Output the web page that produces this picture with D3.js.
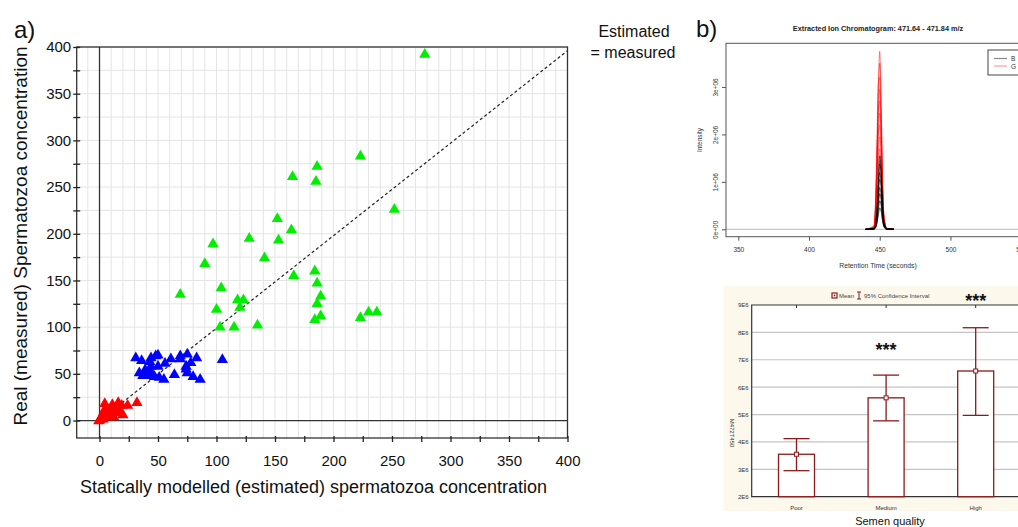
<!DOCTYPE html>
<html>
<head>
<meta charset="utf-8">
<script src="https://cdn.jsdelivr.net/npm/d3@7"></script>
<style>
  body { margin: 0; background: #fff; }
  svg { display: block; font-family: "Liberation Sans", Arial, sans-serif; }
</style>
</head>
<body>
<div id="chart"></div>
<script>
// ---------- panel a) : [estimated, measured] ----------
const greenPoints = [
  [278, 392], [223, 283], [186, 272], [165, 261], [185, 256], [252, 226], [152, 216], [164, 204],
  [128, 195], [153, 193], [97, 189], [90, 168], [141, 174], [166, 155], [184, 160], [186, 147],
  [189, 133], [186, 125], [189, 112], [184, 108], [69, 135], [104, 142], [118, 129], [123, 129],
  [120, 121], [100, 119], [103, 100], [115, 100], [135, 102], [223, 110], [230, 116], [237, 116]
];
const bluePoints = [
  [31, 67], [36, 64], [44, 67], [48, 69], [50, 70], [43, 63], [56, 61], [61, 66], [69, 69], [69, 66],
  [75, 71], [78, 62], [83, 67], [74, 58], [50, 58], [44, 58], [34, 51], [37, 48], [40, 48], [44, 49],
  [47, 47], [51, 46], [55, 44], [64, 49], [75, 51], [80, 47], [86, 44], [105, 65], [44, 52], [39, 54], [74, 55]
];
const redPoints = [
  [4.5, 18], [16, 19], [24, 16], [32, 19], [20, 6], [10, 14], [13, 9], [7, 8], [2, 4], [0.3, 0.5],
  [3, 1.3], [8.5, 3.4], [12, 4], [17, 11], [11, 17], [5, 13], [-0.6, -0.5], [8, 10], [3.5, 9],
  [14.5, 8], [19, 16], [1, 2], [6, 5], [10, 7]
];
const identityLine = [[-3, -3], [400, 396]];
const scatterTicks = [0, 25, 50, 75, 100, 125, 150, 175, 200, 225, 250, 275, 300, 325, 350, 375, 400];

// ---------- panel b) chromatogram (intensity in 1e6) ----------
const rtTimes = [440, 446, 447, 448, 449, 450, 451, 452, 453, 455, 460];
const redTraces = [
  [0, 0.05, 0.4, 1.5, 3.0, 3.75, 2.7, 1.1, 0.3, 0.02, 0],
  [0, 0.04, 0.45, 1.4, 2.8, 3.5, 2.6, 1.0, 0.25, 0.02, 0],
  [0, 0.08, 0.6, 1.8, 3.1, 3.2, 2.1, 0.8, 0.2, 0.01, 0],
  [0, 0.03, 0.35, 1.2, 2.4, 2.95, 2.3, 0.95, 0.25, 0.02, 0],
  [0, 0.06, 0.5, 1.5, 2.5, 2.7, 1.9, 0.7, 0.15, 0.01, 0],
  [0, 0.02, 0.3, 1.0, 2.0, 2.45, 2.0, 0.9, 0.25, 0.02, 0],
  [0, 0.05, 0.4, 1.1, 2.0, 2.2, 1.6, 0.6, 0.12, 0.01, 0],
  [0, 0.02, 0.25, 0.9, 1.6, 1.95, 1.6, 0.7, 0.18, 0.01, 0],
  [0, 0.03, 0.25, 0.8, 1.4, 1.7, 1.3, 0.5, 0.12, 0.01, 0],
  [0, 0.01, 0.18, 0.6, 1.2, 1.45, 1.15, 0.5, 0.14, 0.01, 0]
];
const blackTraces = [
  [0, 0.01, 0.08, 0.35, 0.95, 1.55, 1.25, 0.55, 0.15, 0.01, 0],
  [0, 0.01, 0.06, 0.3, 0.85, 1.38, 1.15, 0.5, 0.14, 0.01, 0],
  [0, 0.02, 0.1, 0.4, 0.9, 1.2, 0.95, 0.4, 0.1, 0.01, 0],
  [0, 0.01, 0.05, 0.25, 0.7, 1.05, 0.9, 0.4, 0.12, 0.01, 0],
  [0, 0.01, 0.06, 0.25, 0.6, 0.88, 0.72, 0.32, 0.09, 0.01, 0],
  [0, 0.01, 0.04, 0.18, 0.5, 0.75, 0.62, 0.28, 0.08, 0.01, 0],
  [0, 0.01, 0.03, 0.15, 0.4, 0.6, 0.5, 0.22, 0.06, 0, 0],
  [0, 0, 0.03, 0.12, 0.3, 0.45, 0.38, 0.17, 0.05, 0, 0]
];
const rtTicks = [350, 400, 450, 500, 550];
const intensityTicks = [0, 1, 2, 3];
const intensityLabels = ["0e+00", "1e+06", "2e+06", "3e+06"];
// only the first letters of the legend entries are visible in the figure
const legendNames = ["B", "G"];

// ---------- panel b) means with 95% CI (in 1E6) ----------
const qualityCats = ["Poor", "Medium", "High"];
const meanVals = [3.55, 5.61, 6.59];
const ciLow = [2.95, 4.77, 4.97];
const ciHigh = [4.12, 6.44, 8.17];
const significance = ["", "***", "***"];
const concTicks = [2, 3, 4, 5, 6, 7, 8, 9];

const svg = d3.select("#chart").append("svg")
  .attr("width", 1018)
  .attr("height", 527);

// ================= panel a) =================
function drawScatter() {
  const x = d3.scaleLinear().domain([-19.5, 400]).range([76.7, 567.5]);
  const y = d3.scaleLinear().domain([-18.7, 400]).range([438, 47]);
  const g = svg.append("g");

  // light grid: every 10 across, every 25 up
  g.selectAll(".vg").data(d3.range(-10, 400, 10)).enter().append("line")
    .attr("x1", d => x(d)).attr("x2", d => x(d))
    .attr("y1", y(-18.7)).attr("y2", y(400))
    .attr("stroke", "#e4e4e4").attr("stroke-width", 1);
  g.selectAll(".hg").data(scatterTicks).enter().append("line")
    .attr("x1", x(-19.5)).attr("x2", x(400))
    .attr("y1", d => y(d)).attr("y2", d => y(d))
    .attr("stroke", "#e4e4e4").attr("stroke-width", 1);

  // zero lines
  g.append("line").attr("x1", x(0)).attr("x2", x(0)).attr("y1", y(-18.7)).attr("y2", y(400))
    .attr("stroke", "#333").attr("stroke-width", 1.3);
  g.append("line").attr("x1", x(-19.5)).attr("x2", x(400)).attr("y1", y(0)).attr("y2", y(0))
    .attr("stroke", "#333").attr("stroke-width", 1.3);

  // box
  g.append("rect")
    .attr("x", x(-19.5)).attr("y", y(400))
    .attr("width", x(400) - x(-19.5)).attr("height", y(-18.7) - y(400))
    .attr("fill", "none").attr("stroke", "#333").attr("stroke-width", 1.3);

  const fmt = d => (d % 50 === 0 ? d : "");
  const yAxis = g.append("g").attr("transform", `translate(${x(-19.5)},0)`)
    .call(d3.axisLeft(y).tickValues(scatterTicks).tickFormat(fmt).tickSize(3.5).tickPadding(2));
  yAxis.select(".domain").remove();
  yAxis.selectAll("line").attr("x1", 3.5).attr("stroke", "#222").attr("stroke-width", 1.3);
  yAxis.selectAll("text").attr("font-size", 15).attr("font-family", "Liberation Sans, Arial").attr("fill", "#111");

  const xAxis = g.append("g").attr("transform", `translate(0,${y(-18.7)})`)
    .call(d3.axisBottom(x).tickValues(scatterTicks).tickFormat(fmt).tickSize(4).tickPadding(13));
  xAxis.select(".domain").remove();
  xAxis.selectAll("line").attr("y1", -2).attr("stroke", "#222").attr("stroke-width", 1.3);
  xAxis.selectAll("text").attr("font-size", 15).attr("font-family", "Liberation Sans, Arial").attr("fill", "#111");

  // estimated = measured
  g.append("path").datum(identityLine)
    .attr("d", d3.line().x(d => x(d[0])).y(d => y(d[1])))
    .attr("fill", "none").attr("stroke", "#222").attr("stroke-width", 1.2)
    .attr("stroke-dasharray", "3,2.5");

  const tri = d3.symbol().type(d3.symbolTriangle).size(55);
  const groups = [[redPoints, "#ff0000"], [bluePoints, "#0000ff"], [greenPoints, "#00ee00"]];
  groups.forEach(([pts, col]) => {
    g.append("g").selectAll("path").data(pts).enter().append("path")
      .attr("d", tri)
      .attr("transform", d => `translate(${x(d[0])},${y(d[1])})`)
      .attr("fill", col);
  });

  g.append("text").attr("x", 313.5).attr("y", 493).attr("text-anchor", "middle")
    .attr("font-size", 18).attr("fill", "#111")
    .text("Statically modelled (estimated) spermatozoa concentration");
  g.append("text").attr("transform", "translate(27,236) rotate(-90)").attr("text-anchor", "middle")
    .attr("font-size", 19).attr("fill", "#111")
    .text("Real (measured) Spermatozoa concentration");

  g.append("text").attr("x", 14).attr("y", 38).attr("font-size", 24).attr("fill", "#111").text("a)");
  g.append("text").attr("x", 634).attr("y", 37).attr("text-anchor", "middle")
    .attr("font-size", 16).attr("fill", "#111").text("Estimated");
  g.append("text").attr("x", 633).attr("y", 58).attr("text-anchor", "middle")
    .attr("font-size", 16).attr("fill", "#111").text("= measured");
}

// ================= panel b) chromatogram =================
function drawChromatogram() {
  const x = d3.scaleLinear().domain([341.3, 570.4]).range([726, 1050]);
  const y = d3.scaleLinear().domain([-0.156, 3.92]).range([236.7, 43.3]);
  const g = svg.append("g");

  g.append("text").attr("x", 696).attr("y", 37).attr("font-size", 24).attr("fill", "#111").text("b)");
  g.append("text").attr("x", 878).attr("y", 31).attr("text-anchor", "middle")
    .attr("font-size", 7.3).attr("font-weight", "bold").attr("fill", "#222")
    .text("Extracted Ion Chromatogram: 471.64 - 471.84 m/z");

  // baseline at zero
  g.append("line").attr("x1", 726).attr("x2", 1050).attr("y1", y(0)).attr("y2", y(0))
    .attr("stroke", "#bbb").attr("stroke-width", 1);

  const line = d3.line().x((d, i) => x(rtTimes[i])).y(d => y(d)).curve(d3.curveMonotoneX);
  g.append("g").selectAll("path").data(redTraces).enter().append("path")
    .attr("d", line).attr("fill", "none")
    .attr("stroke", "rgba(255,0,0,0.55)").attr("stroke-width", 0.9);
  g.append("g").selectAll("path").data(blackTraces).enter().append("path")
    .attr("d", line).attr("fill", "none")
    .attr("stroke", "rgba(0,0,0,0.75)").attr("stroke-width", 0.9);

  g.append("rect").attr("x", 726).attr("y", 43.3).attr("width", 330).attr("height", 193.4)
    .attr("fill", "none").attr("stroke", "#555").attr("stroke-width", 1);

  // 550 sits at the right edge of the figure and is cut off there, as in the original
  const xAxis = g.append("g").attr("transform", "translate(0,236.7)")
    .call(d3.axisBottom(x).tickValues(rtTicks).tickSize(4).tickPadding(7));
  xAxis.select(".domain").remove();
  xAxis.selectAll("line").attr("stroke", "#555");
  xAxis.selectAll("text").attr("font-size", 6.5).attr("font-family", "Liberation Sans, Arial").attr("fill", "#333");

  const yAxis = g.append("g").attr("transform", "translate(726,0)")
    .call(d3.axisLeft(y).tickValues(intensityTicks).tickFormat((d, i) => intensityLabels[i]).tickSize(4));
  yAxis.select(".domain").remove();
  yAxis.selectAll("line").attr("stroke", "#555");
  yAxis.selectAll("text")
    .attr("font-size", 6.5).attr("font-family", "Liberation Sans, Arial").attr("fill", "#333")
    .attr("x", null).attr("dy", null).attr("text-anchor", "middle")
    .attr("transform", "translate(-8,0) rotate(-90)");

  g.append("text").attr("x", 878).attr("y", 268).attr("text-anchor", "middle")
    .attr("font-size", 6.8).attr("fill", "#333").text("Retention Time (seconds)");
  g.append("text").attr("transform", "translate(702,140) rotate(-90)").attr("text-anchor", "middle")
    .attr("font-size", 6.5).attr("fill", "#333").text("Intensity");

  // legend (runs off the right edge)
  g.append("rect").attr("x", 988).attr("y", 50).attr("width", 60).attr("height", 25)
    .attr("fill", "#fff").attr("stroke", "#444").attr("stroke-width", 1);
  const legColors = ["#888", "#ff9a9a"];
  legendNames.forEach((name, i) => {
    g.append("line").attr("x1", 994).attr("x2", 1007).attr("y1", 58.5 + i * 7.5).attr("y2", 58.5 + i * 7.5)
      .attr("stroke", legColors[i]).attr("stroke-width", 1.2);
    g.append("text").attr("x", 1011).attr("y", 61 + i * 7.5).attr("font-size", 6.5)
      .attr("fill", "#333").text(name);
  });
}

// ================= panel b) means + CI =================
function drawMeans() {
  const barRed = "#8b1a1a";
  const x = d3.scaleBand().domain(qualityCats).range([751.7, 1020.5]);
  const y = d3.scaleLinear().domain([2, 9]).range([496.7, 305]);
  const g = svg.append("g");

  g.append("rect").attr("x", 723.3).attr("y", 285.7).attr("width", 320).attr("height", 225.3)
    .attr("fill", "#fcf8ec");
  g.append("rect").attr("x", 751.7).attr("y", 305).attr("width", 268.8).attr("height", 191.7)
    .attr("fill", "#fff");

  g.selectAll(".grid").data(concTicks.slice(1, -1)).enter().append("line")
    .attr("x1", 751.7).attr("x2", 1020.5).attr("y1", d => y(d)).attr("y2", d => y(d))
    .attr("stroke", "#c4c4c4").attr("stroke-width", 1.2);

  // frame lines
  g.append("path").attr("d", `M1020.5,305H751.7V496.7H1020.5`)
    .attr("fill", "none").attr("stroke", "#333").attr("stroke-width", 1.2);

  const yAxis = g.append("g").attr("transform", "translate(751.7,0)")
    .call(d3.axisLeft(y).tickValues(concTicks).tickFormat(d => d + "E6").tickSize(0).tickPadding(3));
  yAxis.select(".domain").remove();
  yAxis.selectAll("text").attr("font-size", 6).attr("font-family", "Liberation Sans, Arial").attr("fill", "#333");

  const topTicks = g.append("g").attr("transform", "translate(0,305)")
    .call(d3.axisTop(x).tickSize(-3).tickFormat(""));
  topTicks.select(".domain").remove();
  topTicks.selectAll("line").attr("stroke", "#333");

  const xAxis = g.append("g").attr("transform", "translate(0,496.7)")
    .call(d3.axisBottom(x).tickSize(0).tickPadding(9));
  xAxis.select(".domain").remove();
  xAxis.selectAll("text").attr("font-size", 6).attr("font-family", "Liberation Sans, Arial").attr("fill", "#333");

  const bw = 36, cap = 13;
  const cx = d => x(d) + x.bandwidth() / 2;
  g.selectAll(".bar").data(qualityCats).enter().append("rect")
    .attr("x", d => cx(d) - bw / 2).attr("y", (d, i) => y(meanVals[i]))
    .attr("width", bw).attr("height", (d, i) => y(2) - y(meanVals[i]))
    .attr("fill", "#fff").attr("stroke", barRed).attr("stroke-width", 1.3);

  qualityCats.forEach((c, i) => {
    const eb = g.append("g").attr("stroke", barRed).attr("stroke-width", 1.3);
    eb.append("line").attr("x1", cx(c)).attr("x2", cx(c)).attr("y1", y(ciLow[i])).attr("y2", y(ciHigh[i]));
    eb.append("line").attr("x1", cx(c) - cap).attr("x2", cx(c) + cap).attr("y1", y(ciLow[i])).attr("y2", y(ciLow[i]));
    eb.append("line").attr("x1", cx(c) - cap).attr("x2", cx(c) + cap).attr("y1", y(ciHigh[i])).attr("y2", y(ciHigh[i]));
    g.append("rect").attr("x", cx(c) - 2).attr("y", y(meanVals[i]) - 2).attr("width", 4).attr("height", 4)
      .attr("fill", "#fff").attr("stroke", barRed).attr("stroke-width", 1);
  });

  g.selectAll(".sig").data(significance).enter().append("text")
    .attr("x", (d, i) => cx(qualityCats[i]))
    .attr("y", (d, i) => (i === 1 ? 355.5 : 307))
    .attr("text-anchor", "middle").attr("font-size", 18).attr("font-weight", "bold").attr("fill", "#111")
    .text(d => d);

  // legend
  g.append("rect").attr("x", 832).attr("y", 293).attr("width", 5).attr("height", 5)
    .attr("fill", "#fff").attr("stroke", barRed).attr("stroke-width", 1.2);
  g.append("rect").attr("x", 833.7).attr("y", 294.7).attr("width", 1.6).attr("height", 1.6).attr("fill", barRed);
  g.append("text").attr("x", 839).attr("y", 297.8).attr("font-size", 6).attr("fill", "#444").text("Mean");
  const ic = g.append("g").attr("stroke", barRed).attr("stroke-width", 1);
  ic.append("line").attr("x1", 859).attr("x2", 859).attr("y1", 292).attr("y2", 299);
  ic.append("line").attr("x1", 857).attr("x2", 861).attr("y1", 292).attr("y2", 292);
  ic.append("line").attr("x1", 857).attr("x2", 861).attr("y1", 299).attr("y2", 299);
  g.append("text").attr("x", 864).attr("y", 297.8).attr("font-size", 6).attr("fill", "#444")
    .text("95% Confidence Interval");

  g.append("text").attr("transform", "translate(730,433) rotate(90)").attr("text-anchor", "middle")
    .attr("font-size", 6).attr("fill", "#333").text("M472T450");

  g.append("text").attr("x", 890).attr("y", 525).attr("text-anchor", "middle")
    .attr("font-size", 11).attr("fill", "#111").text("Semen quality");
}

drawScatter();
drawChromatogram();
drawMeans();
</script>
</body>
</html>
